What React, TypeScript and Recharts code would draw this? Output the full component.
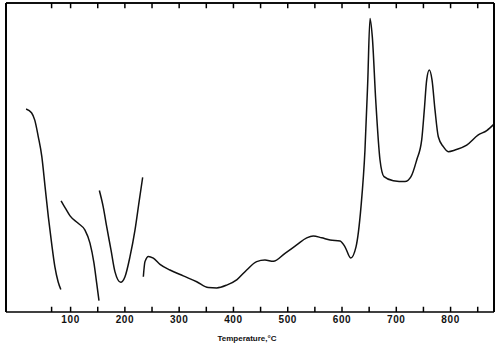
import React from "react";
import { LineChart, Line, XAxis, YAxis, ReferenceLine } from "recharts";

// Temperature (°C) vs. differential signal (arbitrary units)
const segA_T = [18, 28, 34, 40.5, 47, 53, 59, 65, 71, 77, 82];
const segA_V = [65.7, 64.5, 62.1, 56.7, 50.3, 40.5, 30.8, 22.3, 14.7, 9.8, 7.3];

const segB_T = [82.5, 90, 99, 114, 126.5, 135.7, 143, 148, 152.3];
const segB_V = [36.0, 33.7, 31.1, 28.7, 26.5, 22.3, 15.9, 9.4, 3.7];

const segC_T = [153, 160, 166.5, 174.4, 181.8, 192.3, 200.2, 209.4, 218.6, 226.6, 232.8];
const segC_V = [39.3, 34.1, 27.6, 20.1, 13.0, 9.6, 11.4, 17.9, 26.5, 36.2, 43.6];

const segD_T = [
  234, 237, 243.5, 252.4, 264.7, 283, 307.6, 332.3, 353.7, 369.2, 387.6, 406.6, 424.4,
  442.8, 458.1, 473.4, 495, 516.5, 535, 547, 562.6, 578, 596.3, 605.5, 616, 625.8, 635,
  642.3, 647.3, 651.6, 655.8, 662.1, 670, 677.4, 694.5, 716, 727.1, 737.6, 746.8, 751.6,
  756, 760.8, 765.8, 771.3, 777.4, 786.6, 795.8, 808.1, 829.7, 851.1, 866.6, 880,
];
const segD_V = [
  11.4, 16.3, 18.0, 17.4, 15.4, 13.6, 11.7, 9.8, 7.9, 7.8, 8.7, 10.5, 13.6,
  16.3, 16.8, 16.4, 19.0, 21.7, 24.0, 24.6, 24.0, 23.3, 23.0, 21.1, 17.5, 21.1, 34.1,
  52.4, 74.0, 95.0, 89.1, 68.6, 49.2, 43.8, 42.5, 42.2, 43.8, 49.2, 55.7, 65.4,
  75.1, 78.3, 75.1, 65.4, 56.7, 53.5, 51.9, 52.4, 54.0, 57.3, 58.7, 60.8,
];

const tickValues = [65, 100, 150, 200, 250, 300, 350, 400, 450, 500, 550, 600, 650, 700, 750, 800, 850];
const labelValues = [100, 200, 300, 400, 500, 600, 700, 800];

const X_DOMAIN: [number, number] = [-19, 880];
const Y_DOMAIN: [number, number] = [0, 100];
const TICK_LEN = 1.7; // in y units

const toRows = (ts: number[], vs: number[]) => ts.map((t, i) => ({ t, v: vs[i] }));

const segA = toRows(segA_T, segA_V);
const segB = toRows(segB_T, segB_V);
const segC = toRows(segC_T, segC_V);
const segD = toRows(segD_T, segD_V);

const FONT = "'Liberation Sans', Arial, sans-serif";

export default function App() {
  return (
    <div style={{ position: "absolute", left: 0, top: 0, background: "#fff" }}>
      <LineChart width={500} height={346} margin={{ top: 0, right: 0, bottom: 0, left: 0 }}>
        <XAxis
          xAxisId="b"
          type="number"
          dataKey="t"
          domain={X_DOMAIN}
          ticks={tickValues}
          interval={0}
          height={34}
          tickSize={3}
          tickMargin={1}
          tickLine={false}
          tickFormatter={(v: number) => (labelValues.includes(v) ? String(v) : "")}
          tick={{ fontFamily: FONT, fontWeight: "bold", fontSize: 10, fill: "#111", letterSpacing: 0.6 }}
          stroke="black"
          axisLine={{ stroke: "black", strokeWidth: 1.6 }}
          label={{
            value: "Temperature,°C",
            position: "insideBottom",
            offset: 5,
            dx: -3,
            style: { fontFamily: FONT, fontWeight: "bold", fontSize: 8, fill: "#111" },
          }}
        />
        <XAxis
          xAxisId="t"
          orientation="top"
          type="number"
          dataKey="t"
          domain={X_DOMAIN}
          ticks={tickValues}
          height={3}
          tick={false}
          tickLine={false}
          stroke="black"
          axisLine={{ stroke: "black", strokeWidth: 1.6 }}
        />
        <YAxis
          yAxisId="l"
          type="number"
          domain={Y_DOMAIN}
          width={6}
          tick={false}
          tickLine={false}
          stroke="black"
          axisLine={{ stroke: "black", strokeWidth: 1.8 }}
        />
        <YAxis
          yAxisId="r"
          orientation="right"
          type="number"
          domain={Y_DOMAIN}
          width={6}
          tick={false}
          tickLine={false}
          stroke="black"
          axisLine={{ stroke: "black", strokeWidth: 1.8 }}
        />
        <ReferenceLine xAxisId="b" yAxisId="l" x={X_DOMAIN[0]} stroke="black" strokeWidth={1.8} />
        <ReferenceLine xAxisId="b" yAxisId="l" x={X_DOMAIN[1]} stroke="black" strokeWidth={1.8} />
        <ReferenceLine xAxisId="b" yAxisId="l" y={Y_DOMAIN[1]} stroke="black" strokeWidth={1.6} />
        {tickValues.map((t) => (
          <ReferenceLine
            key={"b" + t}
            xAxisId="b"
            yAxisId="l"
            segment={[{ x: t, y: Y_DOMAIN[0] }, { x: t, y: Y_DOMAIN[0] + TICK_LEN }]}
            stroke="black"
            strokeWidth={1.5}
          />
        ))}
        {tickValues.map((t) => (
          <ReferenceLine
            key={"t" + t}
            xAxisId="b"
            yAxisId="l"
            segment={[{ x: t, y: Y_DOMAIN[1] }, { x: t, y: Y_DOMAIN[1] - TICK_LEN }]}
            stroke="black"
            strokeWidth={1.5}
          />
        ))}
        <Line xAxisId="b" yAxisId="l" data={segA} dataKey="v" type="monotone" stroke="#111"
          strokeWidth={1.5} dot={false} activeDot={false} isAnimationActive={false} />
        <Line xAxisId="b" yAxisId="l" data={segB} dataKey="v" type="monotone" stroke="#111"
          strokeWidth={1.5} dot={false} activeDot={false} isAnimationActive={false} />
        <Line xAxisId="b" yAxisId="l" data={segC} dataKey="v" type="monotone" stroke="#111"
          strokeWidth={1.5} dot={false} activeDot={false} isAnimationActive={false} />
        <Line xAxisId="b" yAxisId="l" data={segD} dataKey="v" type="monotone" stroke="#111"
          strokeWidth={1.5} dot={false} activeDot={false} isAnimationActive={false} />
      </LineChart>
    </div>
  );
}
